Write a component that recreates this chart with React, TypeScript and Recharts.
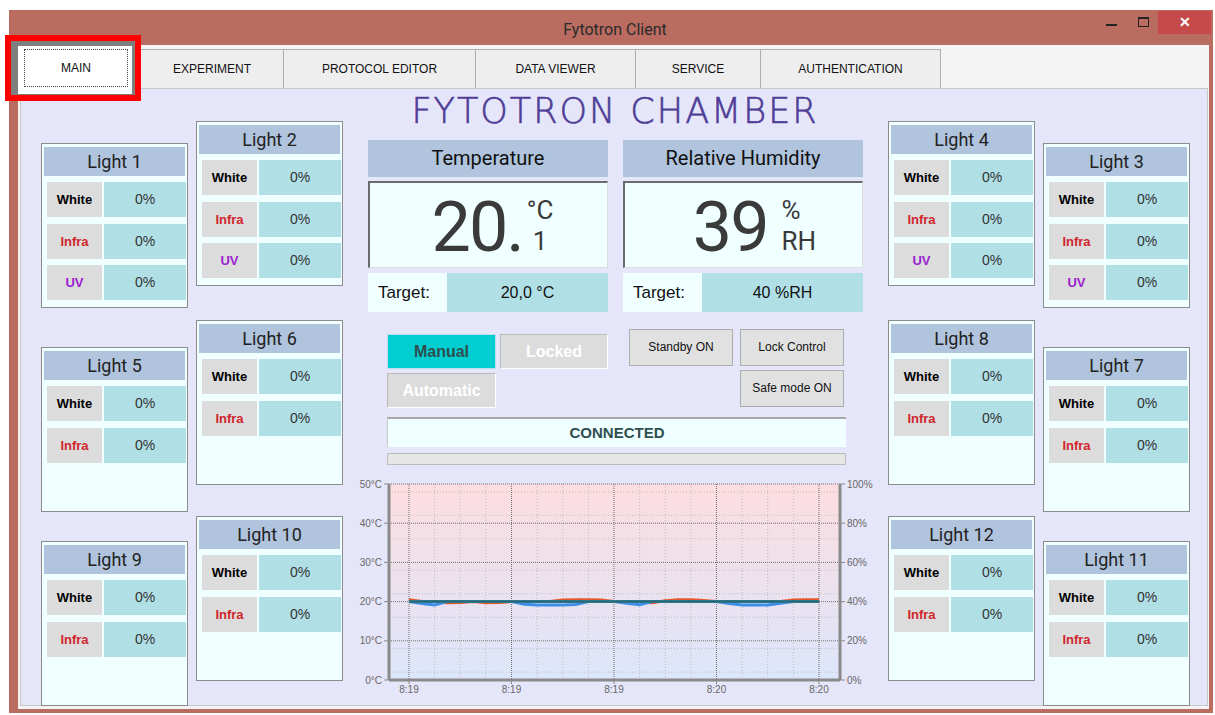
import React from "react";
import { LineChart, Line, XAxis, YAxis, CartesianGrid } from "recharts";

const TABS = ["MAIN", "EXPERIMENT", "PROTOCOL EDITOR", "DATA VIEWER", "SERVICE", "AUTHENTICATION"];
const TAB_EDGES = [20, 140, 283, 475, 635, 760, 940];

const LIGHT_NAMES = ["Light 1", "Light 2", "Light 3", "Light 4", "Light 5", "Light 6",
  "Light 7", "Light 8", "Light 9", "Light 10", "Light 11", "Light 12"];
const CHANNELS_FULL = ["White", "Infra", "UV"];
const CHANNELS_SHORT = ["White", "Infra"];
const LIGHT_LEVELS = [0, 0, 0, 0, 0, 0, 0, 0, 0, 0, 0, 0];

const TEMP_NOW = "20.";
const TEMP_DECIMAL = "1";
const RH_NOW = "39";
const TEMP_TARGET = 20;
const RH_TARGET = 40;

const TIME_LABELS = ["8:19", "8:19", "8:19", "8:20", "8:20"];
const TEMPERATURE = [20.5, 20.0, 20.0, 19.7, 19.8, 20.0, 19.7, 19.8, 20.0, 20.0, 20.0, 20.0, 20.4, 20.5, 20.5, 20.4,
  20.0, 20.0, 20.0, 19.7, 20.2, 20.5, 20.5, 20.3, 20.0, 20.0, 20.0, 20.0, 20.0, 20.0, 20.4, 20.5, 20.5];
const HUMIDITY = [40, 39, 38.3, 40, 40, 40, 40, 40, 40, 38.6, 38.3, 38.3, 38.3, 38.5, 40, 40,
  40, 39.2, 38.4, 40, 40, 40, 40, 40, 40, 39, 38.3, 38.3, 38.3, 39.2, 40, 40, 40];

// where each light box sits on the tab page
const LIGHT_POS: [number, number][] = [
  [41, 143], [196, 121], [1043, 143], [888, 121],
  [41, 347], [196, 320], [1043, 347], [888, 320],
  [41, 541], [196, 516], [1043, 541], [888, 516],
];

const UI = '"Liberation Sans", Arial, sans-serif';
const SEGOE = 'Roboto, "Noto Sans", sans-serif';

const chartData = TEMPERATURE.map((t, i) => ({
  i,
  temp: t,
  rh: HUMIDITY[i],
  tTemp: TEMP_TARGET,
  tRh: RH_TARGET,
}));

const box = (x: number, y: number, w: number, h: number, extra: React.CSSProperties = {}): React.CSSProperties => ({
  position: "absolute", left: x, top: y, width: w, height: h, boxSizing: "border-box", ...extra,
});

const channelColor: Record<string, string> = { White: "#000", Infra: "#D0262C", UV: "#9B1FD0" };

function LightPanel({ idx }: { idx: number }) {
  const [x, y] = LIGHT_POS[idx];
  const channels = idx < 4 ? CHANNELS_FULL : CHANNELS_SHORT;
  return (
    <div style={box(x, y, 147, 165, { border: "1px solid #8c8c8c", background: "#F0FFFF" })}>
      <div style={box(2, 3, 141, 29, {
        background: "#B0C4DE", textAlign: "center", lineHeight: "29px",
        fontFamily: SEGOE, fontSize: 18, color: "#222",
      })}>{LIGHT_NAMES[idx]}</div>
      {channels.map((c, r) => (
        <React.Fragment key={c}>
          <div style={box(5, 38 + r * 41.5, 55, 35, {
            background: "#DCDCDC", textAlign: "center", lineHeight: "35px",
            fontFamily: UI, fontWeight: 700, fontSize: 13, color: channelColor[c],
          })}>{c}</div>
          <div style={box(62, 38 + r * 41.5, 82, 35, {
            background: "#B0E0E6", textAlign: "center", lineHeight: "35px",
            fontFamily: UI, fontSize: 14, color: "#333",
          })}>{LIGHT_LEVELS[idx]}%</div>
        </React.Fragment>
      ))}
    </div>
  );
}

function WinButton({ x, y, w, h, label }: { x: number; y: number; w: number; h: number; label: string }) {
  return (
    <div style={box(x, y, w, h, {
      background: "#E1E1E1", border: "1px solid #ADADAD", textAlign: "center",
      lineHeight: `${h - 2}px`, fontFamily: UI, fontSize: 12, color: "#111",
    })}>{label}</div>
  );
}

// big reading with a small two-line unit block next to it
function Reading({ x, value, top, bottom, pad, gap }: { x: number; value: string; top: string; bottom: string; pad: number; gap: number }) {
  return (
    <div style={box(x, 181, 240, 87, {
      background: "#F0FFFF", borderTop: "2px solid #6b6b6b", borderLeft: "2px solid #6b6b6b",
      borderBottom: "1px solid #ddd", borderRight: "1px solid #ddd",
      display: "flex", justifyContent: "center", alignItems: "center", paddingLeft: pad, color: "#3a3a3a",
    })}>
      <span style={{ fontFamily: SEGOE, fontSize: 70, lineHeight: "82px", letterSpacing: -2, marginTop: 4 }}>{value}</span>
      <span style={{ display: "flex", flexDirection: "column", marginLeft: gap, marginTop: 2, fontFamily: SEGOE, fontSize: 26, lineHeight: "31px" }}>
        <span>{top}</span>
        <span style={{ textAlign: "center" }}>{bottom}</span>
      </span>
    </div>
  );
}

function TrendChart() {
  return (
    <div style={box(340, 474, 540, 230)}>
      <LineChart width={540} height={230} data={chartData} margin={{ top: 10, right: 0, bottom: 4, left: 0 }}>
        <defs>
          <linearGradient id="plotBg" x1="0" y1="0" x2="0" y2="1">
            <stop offset="0%" stopColor="#FDDDE0" />
            <stop offset="100%" stopColor="#DCE6FB" />
          </linearGradient>
        </defs>
        <CartesianGrid
          yAxisId="t"
          fill="url(#plotBg)"
          stroke="#bdbdbd"
          strokeDasharray="1 2"
          horizontalValues={[2, 4, 6, 8, 12, 14, 16, 18, 22, 24, 26, 28, 32, 34, 36, 38, 42, 44, 46, 48]}
          verticalValues={[2, 4, 6, 10, 12, 14, 18, 20, 22, 26, 28, 30]}
        />
        <CartesianGrid
          yAxisId="t"
          fillOpacity={0}
          stroke="#6f6f6f"
          strokeDasharray="1 1"
          horizontalValues={[10, 20, 30, 40, 50]}
          verticalValues={[0, 8, 16, 24, 32]}
        />
        <XAxis
          dataKey="i"
          type="number"
          domain={[-1.56, 33.64]}
          ticks={[0, 8, 16, 24, 32]}
          tickFormatter={(v: number) => TIME_LABELS[v / 8]}
          height={20}
          tickSize={4}
          axisLine={{ stroke: "#8a8a8a", strokeWidth: 3 }}
          tickLine={{ stroke: "#8a8a8a" }}
          tick={{ fontSize: 10, fill: "#666", fontFamily: UI }}
          allowDataOverflow
        />
        <YAxis
          yAxisId="t"
          domain={[0, 50]}
          ticks={[0, 10, 20, 30, 40, 50]}
          tickFormatter={(v: number) => `${v}°C`}
          width={49}
          tickSize={5}
          axisLine={{ stroke: "#8a8a8a", strokeWidth: 3 }}
          tickLine={{ stroke: "#8a8a8a" }}
          tick={{ fontSize: 10, fill: "#666", fontFamily: UI }}
        />
        <YAxis
          yAxisId="h"
          orientation="right"
          domain={[0, 100]}
          ticks={[0, 20, 40, 60, 80, 100]}
          tickFormatter={(v: number) => `${v}%`}
          width={40}
          tickSize={5}
          axisLine={{ stroke: "#8a8a8a", strokeWidth: 3 }}
          tickLine={{ stroke: "#8a8a8a" }}
          tick={{ fontSize: 10, fill: "#666", fontFamily: UI }}
        />
        <Line yAxisId="t" dataKey="temp" stroke="#E8562C" strokeWidth={3} dot={false} isAnimationActive={false} />
        <Line yAxisId="h" dataKey="rh" stroke="#3C8EE6" strokeWidth={3} dot={false} isAnimationActive={false} />
        <Line yAxisId="h" dataKey="tRh" stroke="#2E8AA0" strokeWidth={3} dot={false} isAnimationActive={false} />
        <Line yAxisId="t" dataKey="tTemp" stroke="#2A6475" strokeWidth={2} dot={false} isAnimationActive={false} />
      </LineChart>
    </div>
  );
}

export default function App() {
  return (
    <div style={box(0, 0, 1215, 715, { background: "#fff", overflow: "hidden" })}>
      {/* window frame */}
      <div style={box(9, 10, 1204, 703, { background: "#BA6C61" })} />
      <div style={box(400, 18, 430, 24, { textAlign: "center", fontFamily: SEGOE, fontSize: 16, lineHeight: "24px", color: "#2a2a2a" })}>
        Fytotron Client
      </div>
      <div style={box(1106, 24, 11, 2, { background: "#222" })} />
      <div style={box(1138, 17, 11, 10, { border: "1px solid #222", borderTopWidth: 2 })} />
      <div style={box(1158, 11, 53, 23, {
        background: "#C64A4A", color: "#fff", textAlign: "center", lineHeight: "23px", fontFamily: UI, fontSize: 14, fontWeight: 700,
      })}>✕</div>

      {/* client area */}
      <div style={box(18, 45, 1191, 664, { background: "#F4F4F4" })} />
      {TABS.map((t, k) => k === 0 ? null : (
        <div key={t} style={box(TAB_EDGES[k], 49, TAB_EDGES[k + 1] - TAB_EDGES[k] + 1, 40, {
          background: "#EEEEEE", border: "1px solid #ADADAD", textAlign: "center", lineHeight: "38px",
          fontFamily: UI, fontSize: 12, color: "#111",
        })}>{t}</div>
      ))}
      <div style={box(20, 88, 1188, 618, { background: "#E6E6FA", border: "1px solid #C8C8C8" })} />

      {/* highlighted MAIN tab */}
      <div style={box(5, 35, 136, 66, { border: "6px solid #FF0000", background: "#7F7F7F" })} />
      <div style={box(18, 46, 114, 48, { background: "#fff" })} />
      <div style={box(24, 49, 104, 38, {
        border: "1px dotted #444", textAlign: "center", lineHeight: "36px", fontFamily: UI, fontSize: 12, color: "#111",
      })}>{TABS[0]}</div>

      {/* heading */}
      <div style={box(340, 89, 550, 44, {
        textAlign: "center", fontFamily: '"DejaVu Sans", sans-serif', fontWeight: 200, fontSize: 35,
        letterSpacing: 2, color: "#4E3E96", lineHeight: "44px", WebkitTextStroke: "0.6px #4E3E96",
      })}>FYTOTRON CHAMBER</div>

      {LIGHT_NAMES.map((_, k) => <LightPanel key={k} idx={k} />)}

      {/* temperature */}
      <div style={box(368, 140, 240, 37, { background: "#B0C4DE", textAlign: "center", lineHeight: "37px", fontFamily: SEGOE, fontSize: 20, color: "#111" })}>Temperature</div>
      <Reading x={368} value={TEMP_NOW} top="°C" bottom={TEMP_DECIMAL} pad={8} gap={4} />
      <div style={box(368, 273, 240, 39, { background: "#F0FFFF" })} />
      <div style={box(378, 273, 70, 39, { fontFamily: UI, fontSize: 17, lineHeight: "39px", color: "#111" })}>Target:</div>
      <div style={box(447, 273, 161, 39, { background: "#B0E0E6", textAlign: "center", fontFamily: UI, fontSize: 16, lineHeight: "39px", color: "#111" })}>
        {TEMP_TARGET},0 °C
      </div>

      {/* humidity */}
      <div style={box(623, 140, 240, 37, { background: "#B0C4DE", textAlign: "center", lineHeight: "37px", fontFamily: SEGOE, fontSize: 20, color: "#111" })}>Relative Humidity</div>
      <Reading x={623} value={RH_NOW} top="%" bottom="RH" pad={22} gap={14} />
      <div style={box(623, 273, 240, 39, { background: "#F0FFFF" })} />
      <div style={box(633, 273, 70, 39, { fontFamily: UI, fontSize: 17, lineHeight: "39px", color: "#111" })}>Target:</div>
      <div style={box(702, 273, 161, 39, { background: "#B0E0E6", textAlign: "center", fontFamily: UI, fontSize: 16, lineHeight: "39px", color: "#111" })}>
        {RH_TARGET} %RH
      </div>

      {/* mode buttons */}
      <div style={box(387, 334, 109, 35, { background: "#00CED1", border: "1px solid #bde", textAlign: "center", lineHeight: "33px", fontFamily: UI, fontWeight: 700, fontSize: 16, color: "#2F4F4F" })}>Manual</div>
      <div style={box(500, 334, 108, 35, { background: "#DCDCDC", borderTop: "1px solid #bbb", borderLeft: "1px solid #bbb", borderBottom: "1px solid #fff", borderRight: "1px solid #fff", textAlign: "center", lineHeight: "33px", fontFamily: UI, fontWeight: 700, fontSize: 16, color: "#fff" })}>Locked</div>
      <div style={box(387, 373, 109, 35, { background: "#DCDCDC", borderTop: "1px solid #bbb", borderLeft: "1px solid #bbb", borderBottom: "1px solid #fff", borderRight: "1px solid #fff", textAlign: "center", lineHeight: "33px", fontFamily: UI, fontWeight: 700, fontSize: 16, color: "#fff" })}>Automatic</div>
      <WinButton x={629} y={329} w={104} h={37} label="Standby ON" />
      <WinButton x={740} y={329} w={104} h={37} label="Lock Control" />
      <WinButton x={740} y={370} w={104} h={37} label="Safe mode ON" />

      <div style={box(387, 417, 459, 30, { background: "#F0FFFF", borderTop: "2px solid #a8a8a8", borderLeft: "1px solid #c8c8c8", textAlign: "center", lineHeight: "27px", fontFamily: UI, fontWeight: 700, fontSize: 15, color: "#2F4F4F" })}>CONNECTED</div>
      <div style={box(387, 453, 459, 12, { background: "#E6E6E6", border: "1px solid #BCBCBC" })} />

      <TrendChart />
    </div>
  );
}
